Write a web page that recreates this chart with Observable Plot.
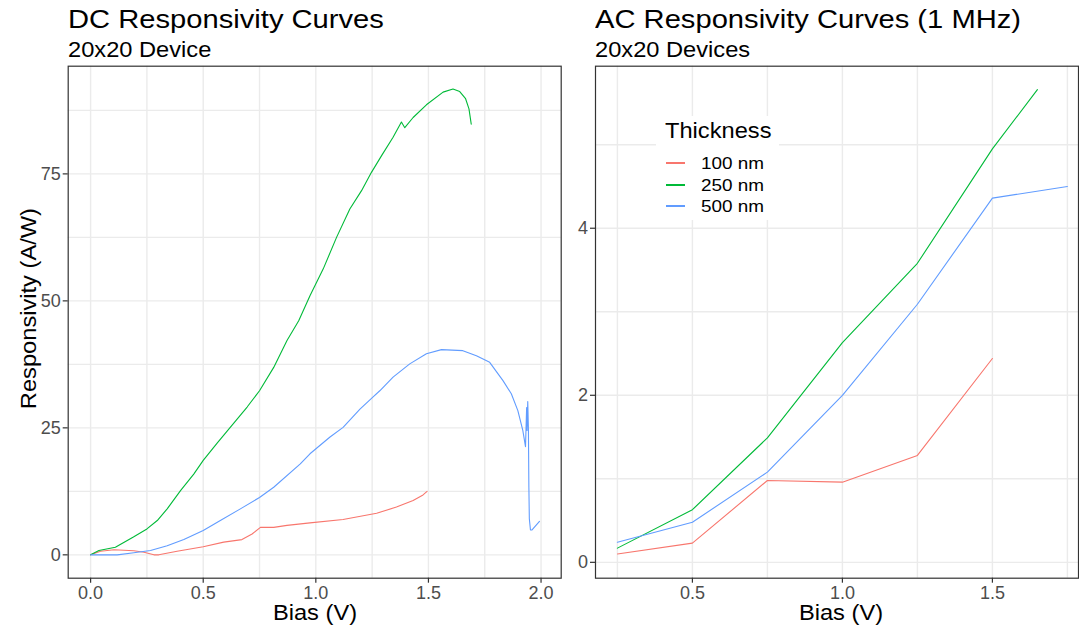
<!DOCTYPE html>
<html><head><meta charset="utf-8">
<script src="https://cdn.jsdelivr.net/npm/d3@7"></script>
<script src="https://cdn.jsdelivr.net/npm/@observablehq/plot@0.6"></script>
<style>
body{margin:0;background:#fff;}
#chart{position:relative;width:1079px;height:625px;overflow:hidden;background:#fff;font-family:"Liberation Sans",Arial,sans-serif;}
#chart svg{position:absolute;top:0;}
.t{position:absolute;white-space:nowrap;line-height:0.8;color:#000;}
.key{position:absolute;height:1.5px;}
</style></head><body><div id="chart"></div>
<script>
// ---- categories ----
const thicknessLevels = ["100 nm", "250 nm", "500 nm"];
const thicknessColors = ["#F8766D", "#00BA38", "#619CFF"];

// ---- DC responsivity (20x20 device) ----
const dc100Bias = [0, 0.044, 0.104, 0.192, 0.237, 0.281, 0.303, 0.384, 0.5, 0.591, 0.672, 0.717, 0.754, 0.813, 0.872, 0.974, 1.121, 1.27, 1.358, 1.432, 1.476, 1.494];
const dc100Resp = [0, 0.7, 1.0, 0.8, 0.5, 0, 0, 0.7, 1.6, 2.5, 3.0, 4.1, 5.4, 5.4, 5.8, 6.3, 6.95, 8.2, 9.4, 10.7, 11.8, 12.5];

const dc250Bias = [0, 0.037, 0.11, 0.19, 0.25, 0.296, 0.34, 0.40, 0.458, 0.5, 0.56, 0.62, 0.695, 0.75, 0.813, 0.872, 0.924, 0.974, 1.033, 1.092, 1.151, 1.203, 1.247, 1.292, 1.343, 1.38, 1.395, 1.432, 1.491, 1.565, 1.609, 1.639, 1.665, 1.68, 1.69];
const dc250Resp = [0, 0.85, 1.5, 3.5, 5.1, 6.75, 9.05, 12.7, 15.9, 18.6, 21.9, 25.1, 29.1, 32.3, 36.9, 42.2, 46.1, 51.0, 56.3, 62.5, 68.1, 71.7, 75.3, 78.6, 82.2, 85.2, 84.1, 86.1, 88.6, 91.1, 91.7, 91.2, 89.8, 87.8, 84.8];

const dc500Bias = [0, 0.118, 0.192, 0.266, 0.34, 0.414, 0.5, 0.576, 0.665, 0.75, 0.813, 0.931, 0.974, 1.063, 1.121, 1.196, 1.252, 1.284, 1.343, 1.417, 1.491, 1.558, 1.653, 1.713, 1.772, 1.831, 1.868, 1.897, 1.919, 1.931, 1.936, 1.938, 1.941, 1.944, 1.946, 1.948, 1.953, 1.960, 1.993];
const dc500Resp = [0, 0, 0.4, 0.85, 1.8, 3.0, 4.8, 6.75, 9.05, 11.3, 13.3, 17.9, 19.9, 23.2, 25.1, 28.7, 31.0, 32.3, 35.0, 37.6, 39.6, 40.4, 40.2, 39.2, 37.9, 34.3, 31.7, 28.4, 24.5, 21.3, 29.0, 24.5, 30.2, 24.5, 13.3, 7.1, 4.9, 4.9, 6.6];

// ---- AC responsivity at 1 MHz (20x20 devices) ----
const ac100Bias = [0.25, 0.5, 0.75, 1.0, 1.25, 1.5];
const ac100Resp = [0.10, 0.23, 0.98, 0.96, 1.28, 2.44];
const ac250Bias = [0.25, 0.5, 0.75, 1.0, 1.25, 1.5, 1.65];
const ac250Resp = [0.17, 0.63, 1.49, 2.63, 3.58, 4.95, 5.66];
const ac500Bias = [0.25, 0.5, 0.75, 1.0, 1.25, 1.5, 1.75];
const ac500Resp = [0.24, 0.48, 1.08, 2.0, 3.09, 4.36, 4.5];

// ---- ticks ----
const dcXTicks = [0, 0.5, 1, 1.5, 2];
const dcXMinor = [0.25, 0.75, 1.25, 1.75];
const dcYTicks = [0, 25, 50, 75];
const dcYMinor = [12.5, 37.5, 62.5, 87.5];
const acXTicks = [0.5, 1, 1.5];
const acXMinor = [0.25, 0.75, 1.25, 1.75];
const acYTicks = [0, 2, 4];
const acYMinor = [1, 3, 5];

function rows(bias, resp, th) { return bias.map((b, i) => ({bias: b, resp: resp[i], thickness: th})); }
const dcData = [...rows(dc100Bias, dc100Resp, thicknessLevels[0]), ...rows(dc250Bias, dc250Resp, thicknessLevels[1]), ...rows(dc500Bias, dc500Resp, thicknessLevels[2])];
const acData = [...rows(ac100Bias, ac100Resp, thicknessLevels[0]), ...rows(ac250Bias, ac250Resp, thicknessLevels[1]), ...rows(ac500Bias, ac500Resp, thicknessLevels[2])];

const grid = {stroke: "#EBEBEB", strokeOpacity: 1, strokeWidth: 1.4};
const axisStyle = {fontSize: 18, color: "#4D4D4D", stroke: "#333333", strokeWidth: 1.2, label: null};

function panel(o) {
  return Plot.plot({
    width: o.width, height: 625,
    marginLeft: o.ml, marginRight: o.mr, marginTop: 65.7, marginBottom: 47.3,
    x: {domain: o.xDomain}, y: {domain: o.yDomain},
    color: {domain: thicknessLevels, range: thicknessColors},
    style: {fontFamily: "'Liberation Sans', Arial, sans-serif", background: "transparent"},
    marks: [
      Plot.gridX(o.xMinor, grid), Plot.gridY(o.yMinor, grid),
      Plot.gridX(o.xTicks, grid), Plot.gridY(o.yTicks, grid),
      Plot.line(o.data, {x: "bias", y: "resp", stroke: "thickness", z: "thickness", strokeWidth: 1.1}),
      Plot.frame({stroke: "#333333", strokeWidth: 1.2}),
      Plot.axisX(o.xTicks, {...axisStyle, tickSize: 5, tickPadding: 3, tickFormat: d => d.toFixed(1)}),
      Plot.axisY(o.yTicks, {...axisStyle, tickSize: 5, tickPadding: 2.5, tickFormat: d => String(d)})
    ]
  });
}

const chart = document.getElementById("chart");
const left = panel({width: 563, ml: 67.7, mr: 2.3, xDomain: [-0.0995, 2.0895], yDomain: [-4.6, 96.2],
  xTicks: dcXTicks, xMinor: dcXMinor, yTicks: dcYTicks, yMinor: dcYMinor, data: dcData});
left.style.left = "0px";
chart.appendChild(left);
const right = panel({width: 516, ml: 32, mr: 1, xDomain: [0.177, 1.787], yDomain: [-0.19, 5.94],
  xTicks: acXTicks, xMinor: acXMinor, yTicks: acYTicks, yMinor: acYMinor, data: acData});
right.style.left = "563px";
chart.appendChild(right);

const LH = 0.8;
function text(str, {x, baseline, size, anchor = "start", sx = 1.1, rotate = 0, color = "#000"}) {
  const d = document.createElement("div");
  d.className = "t";
  d.textContent = str;
  d.style.fontSize = size + "px";
  d.style.color = color;
  const W = 600;
  const base = ((LH - 1.117) / 2 + 0.905) * size;
  if (rotate) {
    d.style.width = W + "px"; d.style.textAlign = "center";
    d.style.left = (x - W / 2) + "px";
    d.style.top = (baseline - LH * size / 2) + "px";
    d.style.transformOrigin = "50% 50%";
    d.style.transform = `rotate(${rotate}deg) scaleX(${sx})`;
  } else if (anchor === "middle") {
    d.style.width = W + "px"; d.style.textAlign = "center";
    d.style.left = (x - W / 2) + "px";
    d.style.top = (baseline - base) + "px";
    d.style.transformOrigin = "50% 50%";
    d.style.transform = `scaleX(${sx})`;
  } else {
    d.style.left = x + "px";
    d.style.top = (baseline - base) + "px";
    d.style.transformOrigin = "0 0";
    d.style.transform = `scaleX(${sx})`;
  }
  chart.appendChild(d);
  return d;
}

// titles
text("DC Responsivity Curves", {x: 68, baseline: 29, size: 26.5});
text("20x20 Device", {x: 68, baseline: 58.5, size: 21.5});
text("AC Responsivity Curves (1 MHz)", {x: 595, baseline: 29, size: 26.5});
text("20x20 Devices", {x: 595, baseline: 58.5, size: 21.5});
// axis titles
text("Bias (V)", {x: 314.5, baseline: 621, size: 21.5, anchor: "middle"});
text("Bias (V)", {x: 841, baseline: 621, size: 21.5, anchor: "middle"});
// rotated y title
text("Responsivity (A/W)", {x: 30, baseline: 309, size: 21.5, rotate: -90});

// legend
const lg = document.createElement("div");
lg.style.cssText = "position:absolute;left:656px;top:116px;width:123px;height:104px;background:#fff;";
chart.appendChild(lg);
text("Thickness", {x: 664.5, baseline: 139, size: 21.5});
const rowBase = [170, 191.5, 213];
const keyY = [162, 184, 205];
thicknessLevels.forEach((lab, i) => {
  const k = document.createElement("div");
  k.className = "key";
  k.style.left = "666px"; k.style.width = "19px"; k.style.top = keyY[i] + "px";
  k.style.background = thicknessColors[i];
  chart.appendChild(k);
  text(lab, {x: 700.5, baseline: rowBase[i], size: 17.2});
});
</script></body></html>
